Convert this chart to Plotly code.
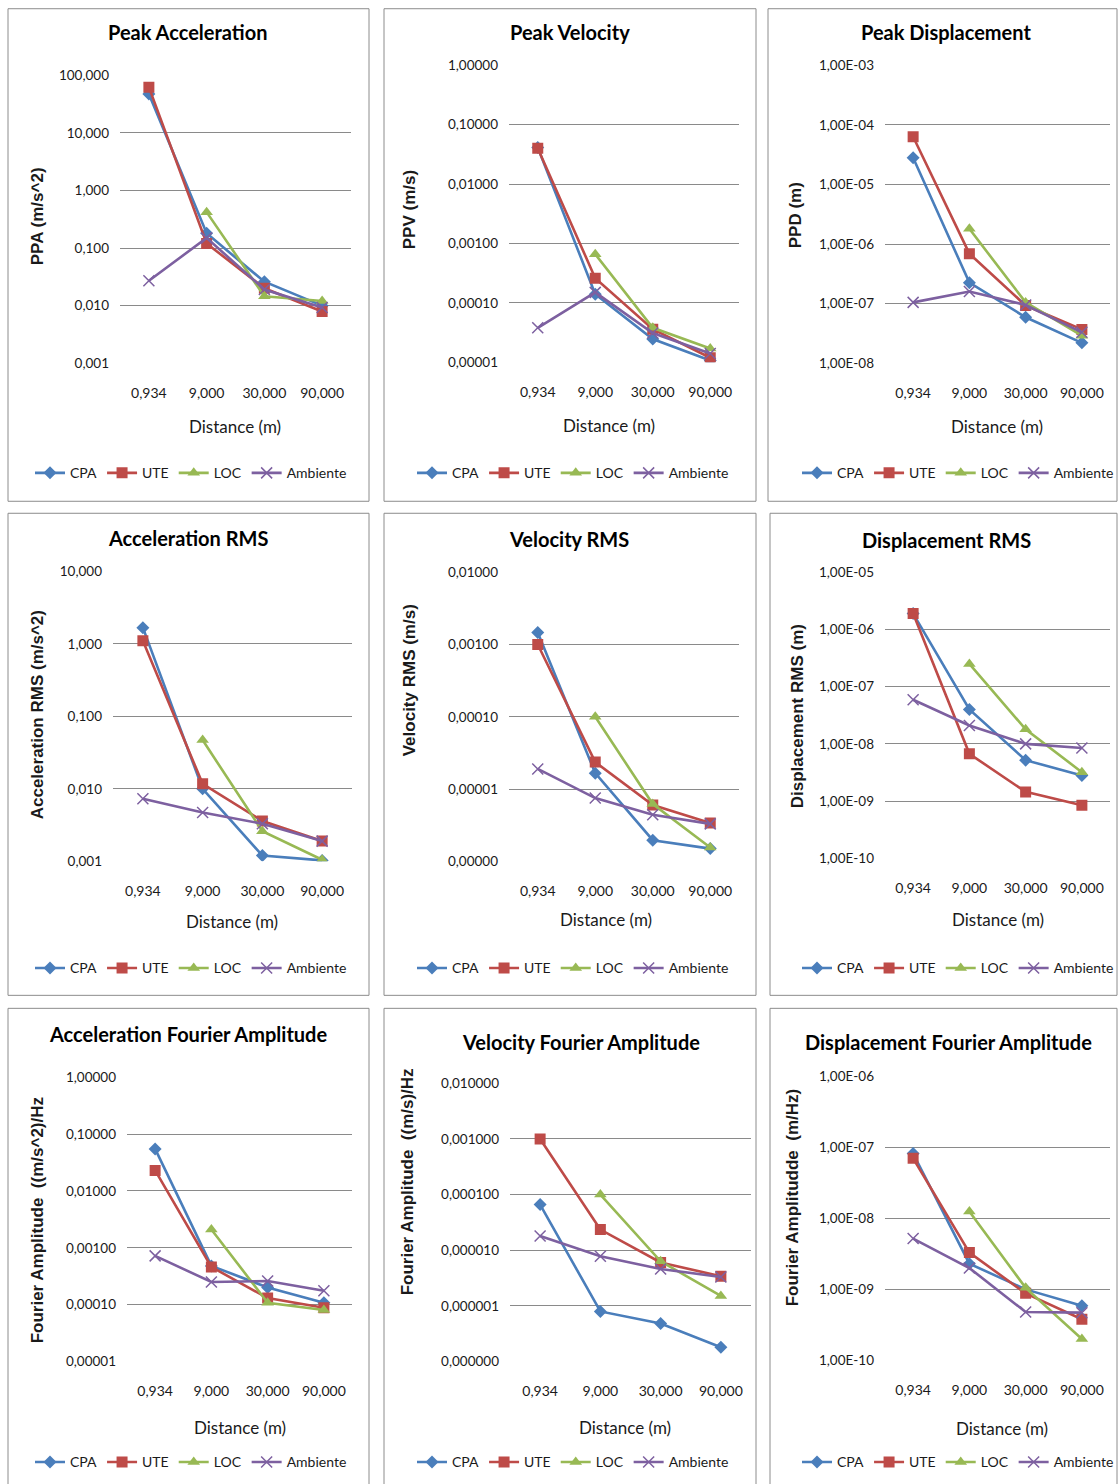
import plotly.graph_objects as go

W, H = 1120, 1484

distances = ["0,934", "9,000", "30,000", "90,000"]
series_names = ["CPA", "UTE", "LOC", "Ambiente"]

# ---- Peak Acceleration (m/s^2)
ppa_cpa = [47, 0.18, 0.026, 0.0100]
ppa_ute = [62, 0.12, 0.020, 0.0079]
ppa_loc = [None, 0.42, 0.0145, 0.012]
ppa_amb = [0.027, 0.15, 0.019, 0.0093]
ppa_ticks = ["0,001", "0,010", "0,100", "1,000", "10,000", "100,000"]

# ---- Peak Velocity (m/s)
ppv_cpa = [0.041, 0.00014, 0.0000246, 0.0000107]
ppv_ute = [0.040, 0.00026, 0.000036, 0.0000119]
ppv_loc = [None, 0.00066, 0.000038, 0.000017]
ppv_amb = [0.000038, 0.00015, 0.000031, 0.000014]
ppv_ticks = ["0,00001", "0,00010", "0,00100", "0,01000", "0,10000", "1,00000"]

# ---- Peak Displacement (m)
ppd_cpa = [2.8e-5, 2.25e-7, 5.9e-8, 2.2e-8]
ppd_ute = [6.3e-5, 6.9e-7, 9.3e-8, 3.7e-8]
ppd_loc = [None, 1.8e-6, 1.05e-7, 2.9e-8]
ppd_amb = [1.05e-7, 1.6e-7, 9.5e-8, 3.3e-8]
ppd_ticks = ["1,00E-08", "1,00E-07", "1,00E-06", "1,00E-05", "1,00E-04", "1,00E-03"]

# ---- Acceleration RMS (m/s^2)
arms_cpa = [1.67, 0.0100, 0.0012, 0.00103]
arms_ute = [1.1, 0.0117, 0.0036, 0.0019]
arms_loc = [None, 0.047, 0.0026, 0.00105]
arms_amb = [0.0073, 0.0047, 0.0033, 0.0019]
arms_ticks = ["0,001", "0,010", "0,100", "1,000", "10,000"]

# ---- Velocity RMS (m/s)
vrms_cpa = [0.00147, 1.66e-5, 1.96e-6, 1.5e-6]
vrms_ute = [0.00100, 2.36e-5, 6.0e-6, 3.4e-6]
vrms_loc = [None, 1.0e-4, 6.2e-6, 1.55e-6]
vrms_amb = [1.9e-5, 7.5e-6, 4.4e-6, 3.3e-6]
vrms_ticks = ["0,00000", "0,00001", "0,00010", "0,00100", "0,01000"]

# ---- Displacement RMS (m)
drms_cpa = [1.9e-6, 4.0e-8, 5.2e-9, 2.8e-9]
drms_ute = [1.9e-6, 6.7e-9, 1.45e-9, 8.5e-10]
drms_loc = [None, 2.5e-7, 1.8e-8, 3.2e-9]
drms_amb = [5.9e-8, 2.1e-8, 1.0e-8, 8.5e-9]
drms_ticks = ["1,00E-10", "1,00E-09", "1,00E-08", "1,00E-07", "1,00E-06", "1,00E-05"]

# ---- Acceleration Fourier Amplitude ((m/s^2)/Hz)
afa_cpa = [0.055, 0.00048, 0.00020, 0.000108]
afa_ute = [0.023, 0.00046, 0.00013, 0.000088]
afa_loc = [None, 0.0021, 0.000108, 0.00008]
afa_amb = [0.00072, 0.00025, 0.00026, 0.000175]
afa_ticks = ["0,00001", "0,00010", "0,00100", "0,01000", "0,10000", "1,00000"]

# ---- Velocity Fourier Amplitude ((m/s)/Hz)
vfa_cpa = [6.6e-5, 7.9e-7, 4.8e-7, 1.8e-7]
vfa_ute = [1.0e-3, 2.35e-5, 6.0e-6, 3.4e-6]
vfa_loc = [None, 1.0e-4, 6.3e-6, 1.5e-6]
vfa_amb = [1.8e-5, 7.8e-6, 4.6e-6, 3.3e-6]
vfa_ticks = ["0,000000", "0,000001", "0,000010", "0,000100", "0,001000", "0,010000"]

# ---- Displacement Fourier Amplitude (m/Hz)
dfa_cpa = [8.2e-8, 2.3e-9, 1.0e-9, 5.9e-10]
dfa_ute = [7.0e-8, 3.3e-9, 8.8e-10, 3.8e-10]
dfa_loc = [None, 1.25e-8, 1.05e-9, 2.0e-10]
dfa_amb = [5.2e-9, 2.0e-9, 4.8e-10, 4.7e-10]
dfa_ticks = ["1,00E-10", "1,00E-09", "1,00E-08", "1,00E-07", "1,00E-06"]

panels = [
    dict(title="Peak Acceleration", ylab="PPA (m/s^2)", data=[ppa_cpa, ppa_ute, ppa_loc, ppa_amb],
         ticks=ppa_ticks, lo=-3),
    dict(title="Peak Velocity", ylab="PPV (m/s)", data=[ppv_cpa, ppv_ute, ppv_loc, ppv_amb],
         ticks=ppv_ticks, lo=-5),
    dict(title="Peak Displacement", ylab="PPD (m)", data=[ppd_cpa, ppd_ute, ppd_loc, ppd_amb],
         ticks=ppd_ticks, lo=-8),
    dict(title="Acceleration RMS", ylab="Acceleration RMS (m/s^2)", data=[arms_cpa, arms_ute, arms_loc, arms_amb],
         ticks=arms_ticks, lo=-3),
    dict(title="Velocity RMS", ylab="Velocity RMS (m/s)", data=[vrms_cpa, vrms_ute, vrms_loc, vrms_amb],
         ticks=vrms_ticks, lo=-6),
    dict(title="Displacement RMS", ylab="Displacement RMS (m)", data=[drms_cpa, drms_ute, drms_loc, drms_amb],
         ticks=drms_ticks, lo=-10),
    dict(title="Acceleration Fourier Amplitude", ylab="Fourier Amplitude  ((m/s^2)/Hz", data=[afa_cpa, afa_ute, afa_loc, afa_amb],
         ticks=afa_ticks, lo=-5),
    dict(title="Velocity Fourier Amplitude", ylab="Fourier Amplitude  ((m/s)/Hz", data=[vfa_cpa, vfa_ute, vfa_loc, vfa_amb],
         ticks=vfa_ticks, lo=-7),
    dict(title="Displacement Fourier Amplitude", ylab="Fourier Amplitudde  (m/Hz)", data=[dfa_cpa, dfa_ute, dfa_loc, dfa_amb],
         ticks=dfa_ticks, lo=-10),
]

# layout geometry in pixels (reference picture coordinates)
geom = [
    dict(plot=(120, 351, 75, 363), frame=(8, 369, 6, 501), t=(187, 32), yl=(37, 216), xl=(235, 426), lg=(191, 473)),
    dict(plot=(509, 739, 65, 362), frame=(384, 756, 6, 501), t=(570, 32), yl=(409, 210), xl=(609, 425), lg=(573, 473)),
    dict(plot=(885, 1110, 65, 363), frame=(768, 1117, 6, 501), t=(946, 32), yl=(795, 215), xl=(997, 426), lg=(958, 473)),
    dict(plot=(113, 352, 571, 861), frame=(8, 369, 513, 995), t=(188, 538), yl=(37, 715), xl=(232, 921), lg=(191, 968)),
    dict(plot=(509, 739, 572, 861), frame=(384, 756, 513, 995), t=(569, 539), yl=(409, 680), xl=(606, 919), lg=(573, 968)),
    dict(plot=(885, 1110, 572, 858), frame=(770, 1117, 513, 995), t=(946, 540), yl=(797, 716), xl=(998, 919), lg=(958, 968)),
    dict(plot=(127, 352, 1077, 1361), frame=(8, 369, 1008, 1495), t=(188, 1034), yl=(37, 1220), xl=(240, 1427), lg=(191, 1462)),
    dict(plot=(510, 751, 1083, 1361), frame=(384, 756, 1008, 1495), t=(581, 1042), yl=(407, 1182), xl=(625, 1427), lg=(573, 1462)),
    dict(plot=(885, 1110, 1076, 1360), frame=(770, 1117, 1008, 1495), t=(948, 1042), yl=(792, 1197), xl=(1002, 1428), lg=(958, 1462)),
]

colors = ["#4A7EBB", "#BE4B48", "#98B954", "#7D60A0"]
markers = [
    dict(symbol="diamond", size=10),
    dict(symbol="square", size=11),
    dict(symbol="triangle-up", size=11),
    dict(symbol="x-thin-open", size=11),
]

fig = go.Figure()
shapes = []
annotations = []
layout = {}

TXT = "#1a1a1a"
FONT = "Lato"

# vertical mapping measured from the photographed page
Y_OFF, Y_SPAN = 7.8, 1467.8

def px(x):
    return x / W

def py(y):
    return 1 - (y - Y_OFF) / Y_SPAN

for i, (p, g) in enumerate(zip(panels, geom), start=1):
    xs = "" if i == 1 else str(i)
    lg = "legend" if i == 1 else f"legend{i}"
    for s, name in enumerate(series_names):
        mk = dict(markers[s])
        mk["color"] = colors[s]
        if s == 3:
            mk["line"] = dict(color=colors[s], width=1.5)
        fig.add_trace(go.Scatter(
            x=distances, y=p["data"][s], name=name, mode="lines+markers",
            line=dict(color=colors[s], width=2.6), marker=mk,
            xaxis=f"x{xs}", yaxis=f"y{xs}", legend=lg, showlegend=True,
        ))
    x0, x1, y0, y1 = g["plot"]
    n = len(p["ticks"])
    tickvals = [10.0 ** (p["lo"] + k) for k in range(n)]
    layout[f"xaxis{xs}"] = dict(
        domain=[px(x0), px(x1)], anchor=f"y{xs}", type="category",
        categoryorder="array", categoryarray=distances, range=[-0.5, 3.5],
        showgrid=False, zeroline=False, showline=False, ticks="",
        tickfont=dict(family=FONT, size=14, color=TXT), ticklabelstandoff=20,
        fixedrange=True,
    )
    layout[f"yaxis{xs}"] = dict(
        domain=[py(y1), py(y0)], anchor=f"x{xs}", type="log",
        range=[p["lo"], p["lo"] + n - 1], tickvals=tickvals, ticktext=p["ticks"],
        showgrid=True, gridcolor="#8a8a8a", gridwidth=1, zeroline=False,
        showline=False, ticks="", tickfont=dict(family=FONT, size=13.5, color=TXT),
        ticklabelstandoff=10, fixedrange=True,
    )
    layout[lg] = dict(
        orientation="h", x=px(g["lg"][0]), y=py(g["lg"][1]), xanchor="center",
        yanchor="middle", font=dict(family=FONT, size=14, color=TXT),
        bgcolor="rgba(0,0,0,0)", itemwidth=30, tracegroupgap=0,
        itemclick=False, itemdoubleclick=False,
    )
    fx0, fx1, fy0, fy1 = g["frame"]
    shapes.append(dict(type="rect", xref="paper", yref="paper",
                       x0=px(fx0), x1=px(fx1), y0=py(fy1), y1=min(py(fy0), 0.9995),
                       line=dict(color="#8c8c8c", width=1), fillcolor="rgba(0,0,0,0)", layer="below"))
    annotations.append(dict(text=p["title"], x=px(g["t"][0]), y=py(g["t"][1]), xref="paper", yref="paper",
                            xanchor="center", yanchor="middle", showarrow=False,
                            font=dict(family=FONT, size=20, color="#000", weight="bold")))
    annotations.append(dict(text=p["ylab"], x=px(g["yl"][0]), y=py(g["yl"][1]), xref="paper", yref="paper",
                            xanchor="center", yanchor="middle", showarrow=False, textangle=-90,
                            font=dict(family="Liberation Sans", size=17, color=TXT, weight="bold")))
    annotations.append(dict(text="Distance (m)", x=px(g["xl"][0]), y=py(g["xl"][1]), xref="paper", yref="paper",
                            xanchor="center", yanchor="middle", showarrow=False,
                            font=dict(family=FONT, size=17, color=TXT)))

fig.update_layout(
    autosize=True, margin=dict(l=0, r=0, t=0, b=0),
    paper_bgcolor="white", plot_bgcolor="white",
    shapes=shapes, annotations=annotations, **layout,
)

fig.write_html(
    "out.html",
    config={"displayModeBar": False, "responsive": True},
    default_width="100vw",
    default_height="100vh",
    post_script=(
        "document.documentElement.style.margin='0';"
        "document.documentElement.style.padding='0';"
        "document.documentElement.style.overflow='hidden';"
        "document.body.style.margin='0';"
        "document.body.style.padding='0';"
        "document.body.style.overflow='hidden';"
        "window.dispatchEvent(new Event('resize'));"
    ),
)
